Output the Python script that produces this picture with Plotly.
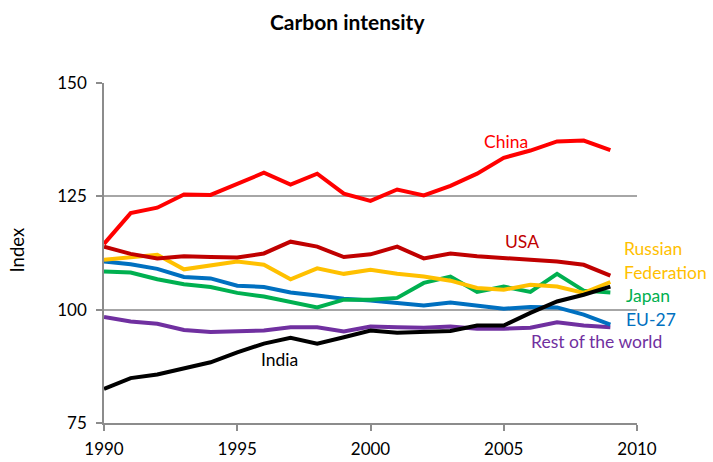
import plotly.graph_objects as go

years = list(range(1990, 2010))

china = [114.5, 121.3, 122.5, 125.4, 125.3, 127.8, 130.2, 127.6, 130.0, 125.6,
         124.0, 126.5, 125.2, 127.3, 130.0, 133.5, 135.1, 137.1, 137.3, 135.2]
usa = [113.9, 112.3, 111.3, 111.8, 111.6, 111.5, 112.4, 115.0, 113.9, 111.6,
       112.2, 113.9, 111.3, 112.4, 111.8, 111.5, 111.0, 110.6, 109.9, 107.5]
russia = [111.0, 111.5, 112.1, 108.9, 109.7, 110.6, 109.9, 106.7, 109.1, 107.9,
          108.8, 107.9, 107.3, 106.4, 104.8, 104.4, 105.5, 105.1, 103.7, 106.1]
japan = [108.4, 108.2, 106.7, 105.6, 105.0, 103.7, 102.9, 101.6, 100.5, 102.2,
         102.2, 102.6, 105.9, 107.3, 103.9, 105.1, 103.9, 107.9, 104.2, 103.8]
eu27 = [110.6, 110.0, 109.0, 107.2, 106.9, 105.3, 105.0, 103.8, 103.1, 102.4,
        102.0, 101.5, 100.9, 101.6, 100.9, 100.2, 100.6, 100.5, 98.9, 96.7]
rest = [98.4, 97.4, 96.9, 95.5, 95.1, 95.3, 95.4, 96.1, 96.1, 95.2,
        96.3, 96.1, 96.0, 96.3, 95.8, 95.8, 96.0, 97.2, 96.5, 96.1]
india = [82.5, 84.9, 85.7, 87.1, 88.4, 90.6, 92.5, 93.8, 92.5, 93.9,
         95.4, 94.9, 95.2, 95.3, 96.5, 96.5, 99.3, 101.8, 103.3, 105.1]

series = [
    ("Rest of the world", rest, "#7030A0"),
    ("EU-27", eu27, "#0070C0"),
    ("Japan", japan, "#00B050"),
    ("Russian Federation", russia, "#FFC000"),
    ("USA", usa, "#C00000"),
    ("China", china, "#FF0000"),
    ("India", india, "#000000"),
]

FONT = "Lato, 'Open Sans', sans-serif"

fig = go.Figure()
for name, vals, col in series:
    fig.add_trace(go.Scatter(x=years, y=vals, mode="lines", name=name,
                             line=dict(color=col, width=4)))

labels = [
    ("China", 2005.07, 137.2, "#FF0000", "center"),
    ("USA", 2005.68, 115.1, "#C00000", "center"),
    ("Russian", 2009.45, 113.6, "#FFC000", "left"),
    ("Federation", 2009.45, 108.2, "#FFC000", "left"),
    ("Japan", 2009.5, 103.2, "#00B050", "left"),
    ("EU-27", 2009.5, 97.9, "#0070C0", "left"),
    ("Rest of the world", 2005.95, 92.9, "#7030A0", "left"),
    ("India", 1995.8, 89.1, "#000000", "left"),
]
for txt, x, y, col, al in labels:
    fig.add_annotation(x=x, y=y, text=txt, showarrow=False, xanchor=al,
                       yanchor="middle", font=dict(color=col, size=17.5, family=FONT))

fig.add_annotation(xref="paper", yref="paper", x=-0.1635, y=0.51, text="Index",
                   textangle=-90, showarrow=False, xanchor="center", yanchor="middle",
                   font=dict(size=18.5, color="#000000", family=FONT))

fig.update_layout(
    width=713, height=462,
    margin=dict(l=104, r=76, t=83, b=39),
    paper_bgcolor="white", plot_bgcolor="white",
    showlegend=False,
    title=dict(text="<b>Carbon intensity</b>", x=0.487, xanchor="center",
               y=0.950, yanchor="middle",
               font=dict(size=21, color="#000000", family=FONT)),
    font=dict(family=FONT, color="#000000"),
)
fig.update_xaxes(range=[1990, 2010], tickvals=[1990, 1995, 2000, 2005, 2010],
                 showgrid=False, zeroline=False, showline=True, linecolor="#8C8C8C",
                 linewidth=1.5, ticks="outside", ticklen=6, tickcolor="#8C8C8C",
                 tickwidth=1.5, ticklabelstandoff=4, automargin=False,
                 tickfont=dict(size=17, family=FONT, color="#000000"))
fig.update_yaxes(range=[75, 150], tickvals=[75, 100, 125, 150],
                 showgrid=True, gridcolor="#A6A6A6", gridwidth=1.5, zeroline=False,
                 showline=True, linecolor="#8C8C8C", linewidth=1.5,
                 ticks="outside", ticklen=6, tickcolor="#8C8C8C", tickwidth=1.5,
                 ticklabelstandoff=6, automargin=False,
                 tickfont=dict(size=17, family=FONT, color="#000000"))

fig.write_html("out.html", config={"displayModeBar": False},
               post_script="document.body.style.margin='0px';")
